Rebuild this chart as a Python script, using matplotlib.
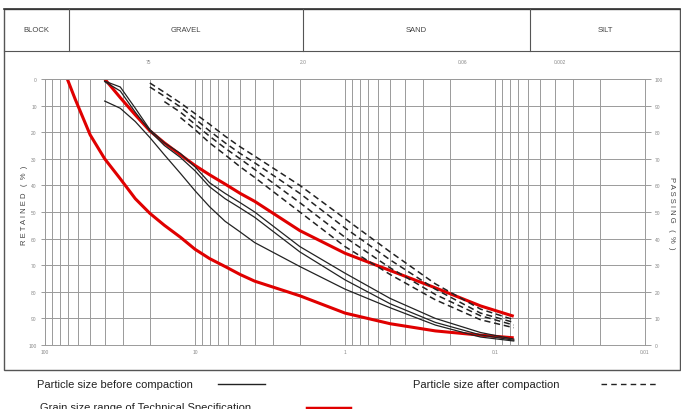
import numpy as np
import matplotlib
matplotlib.use("Agg")
import matplotlib.pyplot as plt
import matplotlib.ticker as mticker
from matplotlib.lines import Line2D
from matplotlib.patches import Rectangle

plt.rcParams['font.family'] = ['Liberation Sans', 'DejaVu Sans']

W, H = 681, 410

""" data read off the chart (size in mm, retained in %) """

spec_coarse_size = [71, 63, 50, 40, 31.5, 25, 20, 16, 12.5, 10, 8, 6.3, 5, 4, 2, 1, 0.5, 0.25, 0.125, 0.075]
spec_coarse_ret = [0, 7.5, 21, 30, 37.5, 45, 50.5, 55, 59.5, 64, 67.5, 70.5, 73.5, 76, 81.5, 88, 92, 94.7, 96.3, 97.3]

sieve_size = [40, 31.5, 25, 20, 16, 12.5, 10, 8, 6.3, 5, 4, 2, 1, 0.5, 0.25, 0.125, 0.075]
spec_fine_ret = [0, 7, 13.5, 19.5, 24, 28.5, 32.5, 36, 39.5, 43, 46, 57, 65.5, 72, 78.5, 85.3, 89.2]

before_1 = [0.8, 3, 11, 19, 24, 28, 33, 39, 43, 46.5, 50, 63, 73, 82.5, 90, 95.3, 97.8]
before_2 = [1.0, 4.5, 12.5, 19.5, 25, 29.5, 34.5, 40.5, 45, 48.5, 52, 65, 75.5, 84.5, 91.5, 96.2, 98.2]
before_3 = [8.3, 11, 16, 22, 28.5, 35.5, 42, 48, 53.5, 57.5, 61.5, 70.5, 79, 86, 92.5, 97, 98.5]

after_1_size = [20, 16, 12.5, 10, 8, 6.3, 5, 4, 2, 1, 0.5, 0.25, 0.125, 0.075]
after_1 = [1.5, 5, 9, 13, 17, 21.5, 25.5, 29, 40, 52.5, 65, 77, 86.5, 90.5]
after_2_size = [20, 16, 12.5, 10, 8, 6.3, 5, 4, 2, 1, 0.5, 0.25, 0.125, 0.075]
after_2 = [3, 6.5, 10.5, 15, 19.5, 24, 28, 31.5, 43, 56, 68, 79, 88, 91.5]
after_3_size = [16, 12.5, 10, 8, 6.3, 5, 4, 2, 1, 0.5, 0.25, 0.125, 0.075]
after_3 = [8.5, 12.5, 17, 21.5, 26, 30, 34, 46.5, 59.5, 71, 81, 89, 92.5]
after_4_size = [12.5, 10, 8, 6.3, 5, 4, 2, 1, 0.5, 0.25, 0.125, 0.075]
after_4 = [14.5, 19, 24, 28.5, 33, 37, 50, 63, 73.5, 83, 90.5, 93.5]

x_major = [100, 10, 1, 0.1, 0.01]
x_major_labels = ['100', '10', '1', '0.1', '0.01']
y_ticks = list(range(0, 101, 10))

soil_classes = ['BLOCK', 'GRAVEL', 'SAND', 'SILT']
class_edges_px = [4, 69, 303, 530, 680]
top_labels = ['75', '2.0', '0.06', '0.002']
top_labels_px = [148, 303, 463, 560]

""" figure """

def fx(x):
    return x / W

def fy(y):
    return 1 - y / H

fig = plt.figure(figsize=(W / 100, H / 100), dpi=100)

frame_col = '#555555'
grid_col = '#9a9a9a'
txt_col = '#888888'

# outer frame and header table
fig.add_artist(Rectangle((fx(4), fy(371)), fx(676), 361 / H, transform=fig.transFigure,
                         fill=False, edgecolor=frame_col, lw=1.0))
fig.add_artist(Line2D([fx(4), fx(680)], [fy(10), fy(10)], transform=fig.transFigure, color='#333333', lw=1.2))
fig.add_artist(Line2D([fx(4), fx(680)], [fy(52), fy(52)], transform=fig.transFigure, color=frame_col, lw=0.8))
for e in class_edges_px[1:-1]:
    fig.add_artist(Line2D([fx(e), fx(e)], [fy(10), fy(52)], transform=fig.transFigure, color=frame_col, lw=0.8))
for i, name in enumerate(soil_classes):
    cx = (class_edges_px[i] + class_edges_px[i + 1]) / 2
    fig.text(fx(cx), fy(31), name, ha='center', va='center', fontsize=5.5, color='#444444')
for lab, px in zip(top_labels, top_labels_px):
    fig.text(fx(px), fy(62), lab, ha='center', va='center', fontsize=3.5, color=txt_col)

# plot area
ax = fig.add_axes([fx(45), fy(346), 600 / W, 266 / H])
ax.set_xscale('log')
ax.set_xlim(100, 0.01)
ax.set_ylim(100, 0)

ax.xaxis.set_major_locator(mticker.FixedLocator(x_major))
ax.xaxis.set_major_formatter(mticker.FixedFormatter(x_major_labels))
ax.xaxis.set_minor_locator(mticker.LogLocator(base=10, subs=np.arange(2, 10), numticks=20))
ax.xaxis.set_minor_formatter(mticker.NullFormatter())
ax.set_yticks(y_ticks)
ax.set_yticklabels([str(v) for v in y_ticks])

ax.grid(True, which='both', axis='x', color=grid_col, lw=0.7)
ax.grid(True, which='major', axis='y', color=grid_col, lw=0.7)
for s in ax.spines.values():
    s.set_color(grid_col)
    s.set_linewidth(0.7)
ax.tick_params(axis='x', which='both', length=0, labelsize=3.5, labelcolor=txt_col, pad=3)
ax.tick_params(axis='y', length=3, color=grid_col, width=0.7, labelsize=3.5, labelcolor=txt_col, pad=3)

sec = ax.secondary_yaxis('right', functions=(lambda r: 100 - r, lambda p: 100 - p))
sec.set_yticks(y_ticks)
sec.set_yticklabels([str(v) for v in y_ticks])
sec.spines['right'].set_visible(False)
sec.tick_params(length=4, color=grid_col, width=0.7, labelsize=3.5, labelcolor=txt_col, pad=3)

red = '#e00000'
ax.plot(spec_coarse_size, spec_coarse_ret, color=red, lw=2.2, solid_capstyle='butt')
ax.plot(sieve_size, spec_fine_ret, color=red, lw=2.2, solid_capstyle='butt')

for r in (before_1, before_2, before_3):
    ax.plot(sieve_size, r, color='#222222', lw=0.9)

for s, r in ((after_1_size, after_1), (after_2_size, after_2), (after_3_size, after_3), (after_4_size, after_4)):
    ax.plot(s, r, color='#222222', lw=1.1, dashes=(4, 2.5))

# axis titles
fig.text(fx(24), fy(205), 'R E T A I N E D   (  %  )', rotation=90, ha='center', va='center',
         fontsize=5.5, color='#444444')
fig.text(fx(672), fy(213), 'P A S S I N G   (  %  )', rotation=-90, ha='center', va='center',
         fontsize=5.5, color='#444444')

# legend below the frame
fig.text(fx(37), fy(385), 'Particle size before compaction', ha='left', va='center', fontsize=8, color='#222222')
fig.add_artist(Line2D([fx(218), fx(265)], [fy(385), fy(385)], transform=fig.transFigure, color='#222222', lw=1.0))
fig.text(fx(413), fy(385), 'Particle size after compaction', ha='left', va='center', fontsize=8, color='#222222')
fig.add_artist(Line2D([fx(601), fx(656)], [fy(385), fy(385)], transform=fig.transFigure, color='#222222',
                      lw=1.0, dashes=(4, 3)))
fig.text(fx(40), fy(408), 'Grain size range of Technical Specification', ha='left', va='center', fontsize=8,
         color='#222222')
fig.add_artist(Line2D([fx(307), fx(350)], [fy(409), fy(409)], transform=fig.transFigure, color=red, lw=2.5))

fig.savefig('out.png', dpi=100)
